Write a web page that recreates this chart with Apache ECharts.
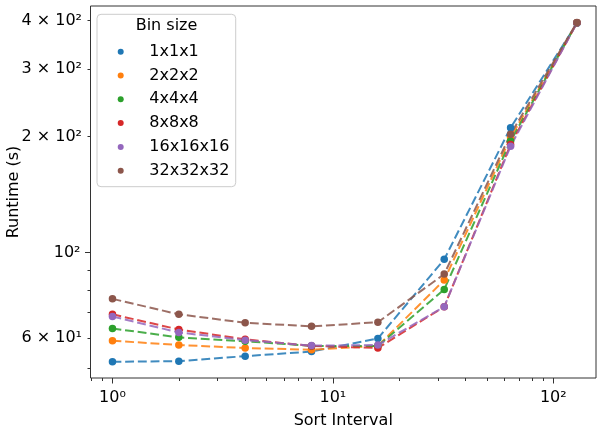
<!DOCTYPE html>
<html><head><meta charset="utf-8">
<script src="https://cdn.jsdelivr.net/npm/echarts@6/dist/echarts.min.js"></script>
<style>html,body{margin:0;padding:0;background:#fff}#c{width:597px;height:431px}</style>
</head><body><div id="c"></div>
<script>
// ---- data ----
const sortInterval = [1, 2, 4, 8, 16, 32, 64, 128];
const binSizes = ['1x1x1', '2x2x2', '4x4x4', '8x8x8', '16x16x16', '32x32x32'];
const runtime1x1x1    = [52.1, 52.3, 53.9, 55.4, 59.9, 96.1, 211, 394];
const runtime2x2x2    = [59.1, 57.6, 56.6, 56.0, 57.3, 84.9, 199, 395];
const runtime4x4x4    = [63.6, 60.3, 58.9, 57.3, 57.3, 80.3, 195, 395];
const runtime8x8x8    = [69.2, 63.2, 59.6, 57.3, 56.6, 72.4, 191, 395];
const runtime16x16x16 = [68.3, 62.1, 59.3, 57.4, 57.6, 72.4, 189, 395];
const runtime32x32x32 = [75.9, 69.2, 65.8, 64.4, 66.0, 88.0, 203, 396];
const colors = ['#1f77b4', '#ff7f0e', '#2ca02c', '#d62728', '#9467bd', '#8c564b'];

const xMajorTicks = [1, 10, 100];
const xMajorLabels = ['10⁰', '10¹', '10²'];
const xMinorTicks = [0.8, 0.9, 2, 3, 4, 5, 6, 7, 8, 9, 20, 30, 40, 50, 60, 70, 80, 90];
const yMajorTicks = [100];
const yMajorLabels = ['10²'];
const yMinorTicks = [50, 60, 70, 80, 90, 200, 300, 400];
const yMinorLabelValues = [60, 200, 300, 400];
const yMinorLabels = ['6 × 10¹', '2 × 10²', '3 × 10²', '4 × 10²'];

const xRange = [0.795, 156.2];
const yRange = [47.3, 436.8];

// ---- chart ----
const FONT = 'DejaVu Sans';
const allRuntimes = [runtime1x1x1, runtime2x2x2, runtime4x4x4, runtime8x8x8, runtime16x16x16, runtime32x32x32];
function lookup(vals, labels) {
  return function (v) {
    for (let i = 0; i < vals.length; i++) if (Math.abs(vals[i] - v) / vals[i] < 1e-6) return labels[i];
    return '';
  };
}
const gridRect = { left: 90.5, top: 6, width: 505.5, height: 372, outerBoundsMode: 'none', containLabel: false };

const chart = echarts.init(document.getElementById('c'), null, { renderer: 'canvas' });
chart.setOption({
  animation: false,
  backgroundColor: '#fff',
  textStyle: { fontFamily: FONT },
  title: {
    text: 'Bin size', left: 166.5, top: 18, textAlign: 'center', padding: 0, z: 10,
    textStyle: { fontFamily: FONT, fontSize: 16, fontWeight: 'normal', color: '#000' }
  },
  legend: {
    data: binSizes, orient: 'vertical', left: 97, top: 14.3, z: 5,
    icon: 'circle', itemWidth: 6, itemHeight: 6, itemGap: 7.8,
    padding: [29.4, 6.4, 8, 20.7],
    backgroundColor: 'rgba(255,255,255,0.8)', borderColor: '#cccccc', borderWidth: 1, borderRadius: 4,
    textStyle: { fontFamily: FONT, fontSize: 16, color: '#000', lineHeight: 16, padding: [0, 0, 0, 20.6] }
  },
  grid: [
    Object.assign({ show: true, borderColor: '#333', borderWidth: 1, backgroundColor: 'transparent' }, gridRect),
    Object.assign({ show: false }, gridRect)
  ],
  xAxis: [
    { type: 'log', gridIndex: 0, min: xRange[0], max: xRange[1], position: 'bottom',
      name: 'Sort Interval', nameLocation: 'middle', nameGap: 35,
      nameTextStyle: { fontFamily: FONT, fontSize: 16, color: '#000' },
      axisLine: { show: false }, splitLine: { show: false },
      axisTick: { show: true, customValues: xMajorTicks, length: 5.5, lineStyle: { color: '#333', width: 1 } },
      axisLabel: { customValues: xMajorTicks, margin: 12, fontFamily: FONT, fontSize: 16, color: '#000', formatter: lookup(xMajorTicks, xMajorLabels) } },
    { type: 'log', gridIndex: 1, min: xRange[0], max: xRange[1], position: 'bottom',
      axisLine: { show: false }, splitLine: { show: false },
      axisTick: { show: true, customValues: xMinorTicks, length: 3, lineStyle: { color: '#333', width: 1 } },
      axisLabel: { show: false } }
  ],
  yAxis: [
    { type: 'log', gridIndex: 0, min: yRange[0], max: yRange[1], position: 'left',
      name: 'Runtime (s)', nameLocation: 'middle', nameGap: 69, nameRotate: 90,
      nameTextStyle: { fontFamily: FONT, fontSize: 16, color: '#000' },
      axisLine: { show: false }, splitLine: { show: false },
      axisTick: { show: true, customValues: yMajorTicks, length: 5.5, lineStyle: { color: '#333', width: 1 } },
      axisLabel: { customValues: yMajorTicks, margin: 10, fontFamily: FONT, fontSize: 16, color: '#000', formatter: lookup(yMajorTicks, yMajorLabels) } },
    { type: 'log', gridIndex: 1, min: yRange[0], max: yRange[1], position: 'left',
      axisLine: { show: false }, splitLine: { show: false },
      axisTick: { show: true, customValues: yMinorTicks, length: 3, lineStyle: { color: '#333', width: 1 } },
      axisLabel: { customValues: yMinorLabelValues, margin: 8.5, fontFamily: FONT, fontSize: 16, color: '#000', formatter: lookup(yMinorLabelValues, yMinorLabels) } }
  ],
  series: binSizes.map(function (name, i) {
    return {
      name: name, type: 'line', xAxisIndex: 0, yAxisIndex: 0,
      data: sortInterval.map(function (x, j) { return [x, allRuntimes[i][j]]; }),
      symbol: 'circle', symbolSize: 7.5, showSymbol: true,
      itemStyle: { color: colors[i] },
      lineStyle: { color: colors[i], width: 2, type: [8.9, 3.8], opacity: 0.85 },
      emphasis: { disabled: true }
    };
  })
});
</script></body></html>
